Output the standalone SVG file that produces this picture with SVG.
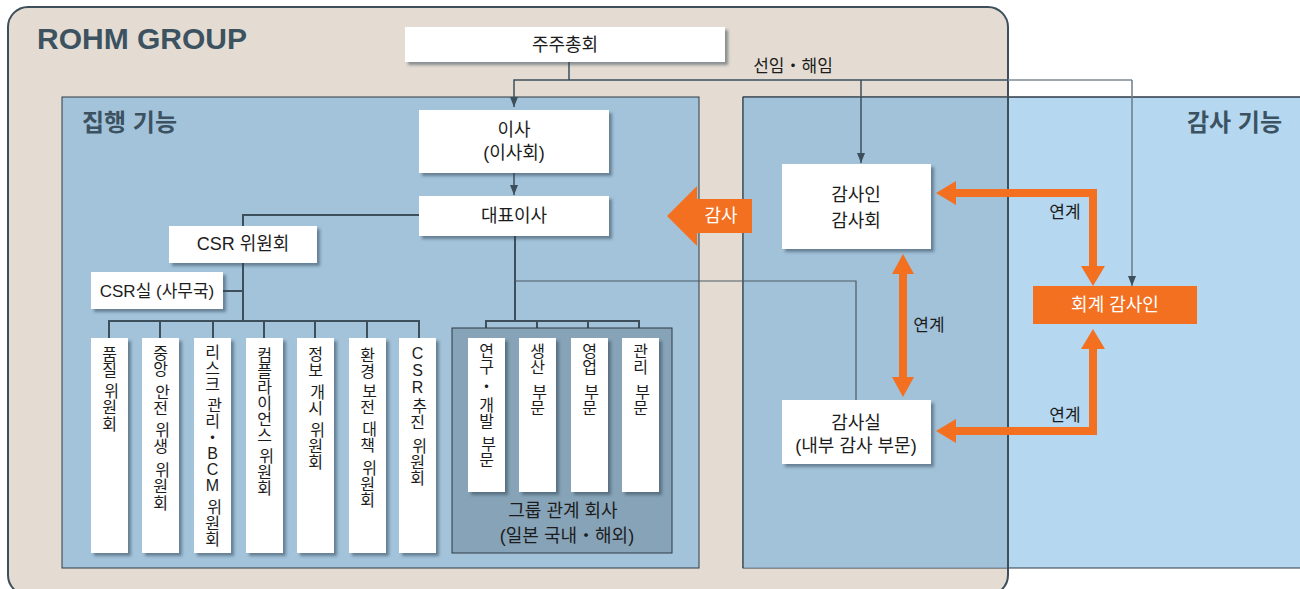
<svg xmlns="http://www.w3.org/2000/svg" width="1300" height="589" viewBox="0 0 1300 589">
<style>
.t{font-family:"Liberation Sans","Noto Sans CJK KR",sans-serif;fill:#1c1c1c;text-anchor:middle;dominant-baseline:central}
.v{font-family:"Liberation Sans","Noto Sans CJK KR",sans-serif;fill:#1c1c1c;text-anchor:middle;dominant-baseline:central;font-size:16px}
.title{font-family:"Liberation Sans","Noto Sans CJK KR",sans-serif;fill:#3c5261;font-weight:bold}
.box{fill:#ffffff;filter:url(#sh)}
.ln{fill:none;stroke:#3d4f5b;stroke-width:2}
.ln2{fill:none;stroke:#3d4f5b;stroke-width:1.5}
.ln3{fill:none;stroke:#4a5b67;stroke-width:1.2}
.or{fill:none;stroke:#f37021;stroke-width:8}
.orf{fill:#f37021}
</style>
<defs>
<filter id="sh" x="-10%" y="-10%" width="130%" height="130%">
<feDropShadow dx="3" dy="3" stdDeviation="1.8" flood-color="#2a3a48" flood-opacity="0.5"/>
</filter>
<marker id="ah" viewBox="0 0 10 8" refX="10" refY="4" markerWidth="10" markerHeight="8" markerUnits="userSpaceOnUse" orient="auto">
<path d="M0,0 L10,4 L0,8 z" fill="#3d4f5b"/>
</marker>
</defs>

<!-- background panels -->
<rect x="8" y="7" width="1000" height="588" rx="20" fill="#e4dcd2"/>
<rect id="exec-panel" x="62" y="97" width="637" height="471" fill="#a3c3db" stroke="#2e3a44" stroke-width="1"/>
<rect id="audit-panel" x="743" y="97" width="570" height="471" fill="#b5d7f0" stroke="#2e3a44" stroke-width="1"/>
<rect x="743.5" y="97.5" width="264.5" height="470" fill="#a2c2da"/>
<line x1="743" y1="97" x2="1300" y2="97" stroke="#2e3a44" stroke-width="1"/>
<line x1="743" y1="97" x2="743" y2="568" stroke="#2e3a44" stroke-width="1"/>
<rect x="8" y="7" width="1000" height="588" rx="20" fill="none" stroke="#3d4f5b" stroke-width="2"/>

<text class="title" x="37" y="49" font-size="30">ROHM GROUP</text>
<text class="title" x="82" y="122" font-size="24" dominant-baseline="central">집행 기능</text>
<text class="title" x="1282" y="122" font-size="24" text-anchor="end" dominant-baseline="central">감사 기능</text>

<!-- connectors -->
<g id="connectors">
<path class="ln2" d="M569,62 V80"/>
<path class="ln2" d="M569,80 H514 V107" marker-end="url(#ah)"/>
<path class="ln2" d="M569,80 H1008"/>
<path d="M1008,80 H1132" fill="none" stroke="#7b8a94" stroke-width="1.5"/>
<path class="ln2" d="M861,80 V163" marker-end="url(#ah)"/>
<path d="M1132,80 V286" fill="none" stroke="#6d7d88" stroke-width="1.5" marker-end="url(#ah)"/>
<path class="ln2" d="M514,173 V195" marker-end="url(#ah)"/>
<path class="ln" d="M419,215 H243 V226"/>
<path class="ln" d="M243,263 V321"/>
<path class="ln" d="M223,291 H243"/>
<path class="ln" d="M109,338 V321 H419 V338"/>
<path class="ln" d="M160,321 V338 M213,321 V338 M264,321 V338 M315,321 V338 M367,321 V338"/>
<path class="ln" d="M515,236 V321"/>
<path class="ln" d="M486,338 V321 H639 V338 M537,321 V338 M588,321 V338"/>
<path class="ln3" d="M515,281 H856 V400"/>
<!-- orange -->
<polygon class="orf" points="667,216 697,186 697,199 752,199 752,233 697,233 697,246"/>
<text class="t" x="721" y="216" font-size="18" style="fill:#ffffff">감사</text>
<path class="or" d="M955,193 H1093 V267"/>
<polygon class="orf" points="936,193 956,181 956,205"/>
<polygon class="orf" points="1093,286 1081,266 1105,266"/>
<path class="or" d="M1093,349 V431 H955"/>
<polygon class="orf" points="1093,329 1081,349 1105,349"/>
<polygon class="orf" points="936,431 956,419 956,443"/>
<path class="or" d="M903,272 V379"/>
<polygon class="orf" points="903,254 892,274 914,274"/>
<polygon class="orf" points="903,397 892,377 914,377"/>
<text class="t" x="793" y="66" font-size="17">선임・해임</text>
<text class="t" x="929" y="325" font-size="17">연계</text>
<text class="t" x="1065" y="212" font-size="17">연계</text>
<text class="t" x="1065" y="415" font-size="17">연계</text>
</g>

<!-- nodes -->
<g id="shareholders"><rect class="box" x="405" y="27" width="320" height="35"/><text class="t" x="565" y="45" font-size="18">주주총회</text></g>
<g id="directors"><rect class="box" x="419" y="110" width="190" height="63"/><text class="t" x="514" y="130" font-size="18">이사</text><text class="t" x="514" y="153" font-size="18">(이사회)</text></g>
<g id="rep-director"><rect class="box" x="419" y="196" width="190" height="40"/><text class="t" x="514" y="216" font-size="18">대표이사</text></g>
<g id="csr-committee"><rect class="box" x="169" y="226" width="148" height="37"/><text class="t" x="243" y="244" font-size="18">CSR 위원회</text></g>
<g id="csr-office"><rect class="box" x="91" y="272" width="132" height="37"/><text class="t" x="157" y="291" font-size="17">CSR실 (사무국)</text></g>

<g id="c1"><rect class="box" x="91" y="338" width="37" height="215"/>
<text class="v"><tspan x="109.5" y="354">품</tspan><tspan x="109.5" y="370">질</tspan><tspan x="109.5" y="391"> 위</tspan><tspan x="109.5" y="407">원</tspan><tspan x="109.5" y="424">회</tspan></text></g>
<g id="c2"><rect class="box" x="142" y="338" width="37" height="215"/>
<text class="v"><tspan x="160.5" y="353">중</tspan><tspan x="160.5" y="369">앙</tspan><tspan x="160.5" y="392"> 안</tspan><tspan x="160.5" y="408">전</tspan><tspan x="160.5" y="430"> 위</tspan><tspan x="160.5" y="446">생</tspan><tspan x="160.5" y="470"> 위</tspan><tspan x="160.5" y="486">원</tspan><tspan x="160.5" y="503">회</tspan></text></g>
<g id="c3"><rect class="box" x="194" y="338" width="37" height="215"/>
<text class="v"><tspan x="212.5" y="352">리</tspan><tspan x="212.5" y="368">스</tspan><tspan x="212.5" y="384">크</tspan><tspan x="212.5" y="405"> 관</tspan><tspan x="212.5" y="421">리</tspan><tspan x="212.5" y="437">・</tspan><tspan x="212.5" y="453">B</tspan><tspan x="212.5" y="469">C</tspan><tspan x="212.5" y="485">M</tspan><tspan x="212.5" y="507"> 위</tspan><tspan x="212.5" y="523">원</tspan><tspan x="212.5" y="539">회</tspan></text></g>
<g id="c4"><rect class="box" x="246" y="338" width="37" height="215"/>
<text class="v"><tspan x="264.5" y="355">컴</tspan><tspan x="264.5" y="371">플</tspan><tspan x="264.5" y="387">라</tspan><tspan x="264.5" y="403">이</tspan><tspan x="264.5" y="419">언</tspan><tspan x="264.5" y="435">스</tspan><tspan x="264.5" y="456"> 위</tspan><tspan x="264.5" y="472">원</tspan><tspan x="264.5" y="488">회</tspan></text></g>
<g id="c5"><rect class="box" x="297" y="338" width="37" height="215"/>
<text class="v"><tspan x="315.5" y="354">정</tspan><tspan x="315.5" y="370">보</tspan><tspan x="315.5" y="392"> 개</tspan><tspan x="315.5" y="408">시</tspan><tspan x="315.5" y="430"> 위</tspan><tspan x="315.5" y="446">원</tspan><tspan x="315.5" y="462">회</tspan></text></g>
<g id="c6"><rect class="box" x="349" y="338" width="37" height="215"/>
<text class="v"><tspan x="367.5" y="355">환</tspan><tspan x="367.5" y="371">경</tspan><tspan x="367.5" y="391"> 보</tspan><tspan x="367.5" y="407">전</tspan><tspan x="367.5" y="429"> 대</tspan><tspan x="367.5" y="445">책</tspan><tspan x="367.5" y="468"> 위</tspan><tspan x="367.5" y="484">원</tspan><tspan x="367.5" y="500">회</tspan></text></g>
<g id="c7"><rect class="box" x="399" y="338" width="37" height="215"/>
<text class="v"><tspan x="417.5" y="353">C</tspan><tspan x="417.5" y="370">S</tspan><tspan x="417.5" y="387">R</tspan><tspan x="417.5" y="406"> 추</tspan><tspan x="417.5" y="422">진</tspan><tspan x="417.5" y="446"> 위</tspan><tspan x="417.5" y="462">원</tspan><tspan x="417.5" y="478">회</tspan></text></g>

<g id="group-companies"><rect x="452" y="328" width="220" height="225" fill="#87a3b8" stroke="#2e3a44" stroke-width="1"/>
<text class="t" x="563" y="511" font-size="18">그룹 관계 회사</text><text class="t" x="567" y="536" font-size="18">(일본 국내・해외)</text></g>
<g id="g1"><rect class="box" x="468" y="338" width="37" height="154"/>
<text class="v"><tspan x="486.5" y="351">연</tspan><tspan x="486.5" y="367">구</tspan><tspan x="486.5" y="386">・</tspan><tspan x="486.5" y="405">개</tspan><tspan x="486.5" y="421">발</tspan><tspan x="486.5" y="444"> 부</tspan><tspan x="486.5" y="460">문</tspan></text></g>
<g id="g2"><rect class="box" x="519" y="338" width="37" height="154"/>
<text class="v"><tspan x="537.5" y="351">생</tspan><tspan x="537.5" y="367">산</tspan><tspan x="537.5" y="392"> 부</tspan><tspan x="537.5" y="408">문</tspan></text></g>
<g id="g3"><rect class="box" x="571" y="338" width="37" height="154"/>
<text class="v"><tspan x="589.5" y="351">영</tspan><tspan x="589.5" y="367">업</tspan><tspan x="589.5" y="392"> 부</tspan><tspan x="589.5" y="408">문</tspan></text></g>
<g id="g4"><rect class="box" x="622" y="338" width="37" height="154"/>
<text class="v"><tspan x="640.5" y="351">관</tspan><tspan x="640.5" y="367">리</tspan><tspan x="640.5" y="392"> 부</tspan><tspan x="640.5" y="408">문</tspan></text></g>

<g id="auditors"><rect class="box" x="782" y="164" width="149" height="85"/><text class="t" x="856" y="195" font-size="18">감사인</text><text class="t" x="856" y="221" font-size="18">감사회</text></g>
<g id="audit-office"><rect class="box" x="782" y="400" width="149" height="64"/><text class="t" x="856" y="423" font-size="18">감사실</text><text class="t" x="856" y="446" font-size="18">(내부 감사 부문)</text></g>
<g id="accounting-auditor"><rect x="1033" y="286" width="164" height="38" fill="#f37021"/><text class="t" x="1115" y="305" font-size="18" style="fill:#ffffff">회계 감사인</text></g>
</svg>
